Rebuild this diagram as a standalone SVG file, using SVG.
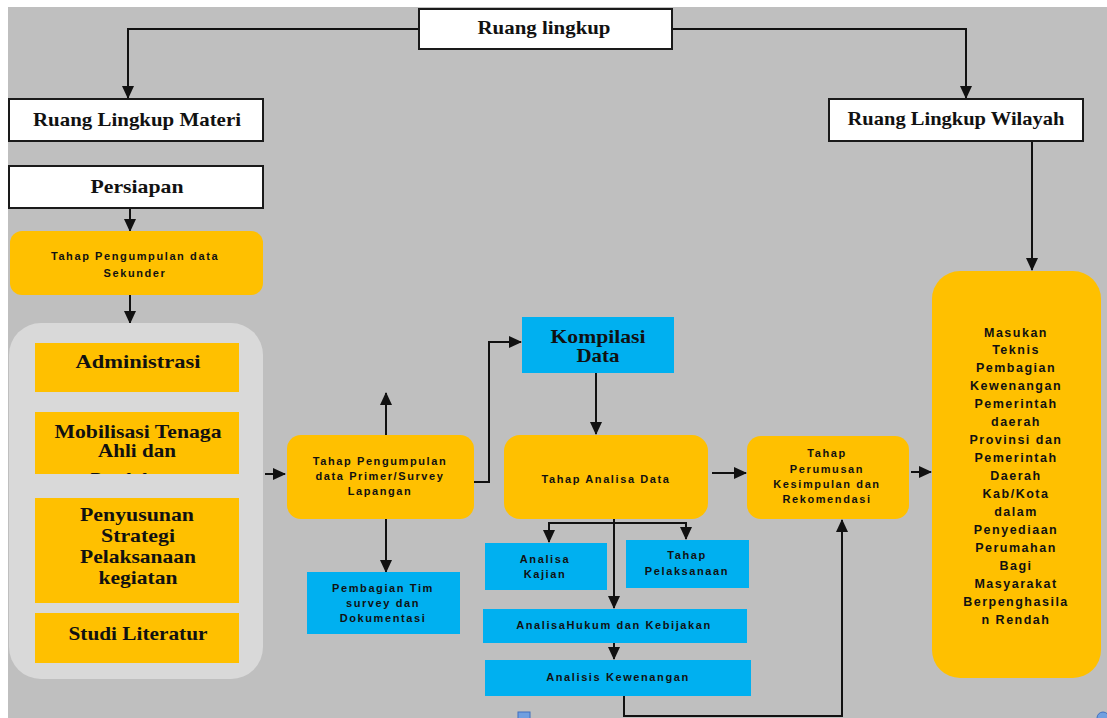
<svg xmlns="http://www.w3.org/2000/svg" width="1107" height="718" viewBox="0 0 1107 718">
  <defs>
    <marker id="arrow" markerUnits="userSpaceOnUse" markerWidth="13" markerHeight="12" refX="12" refY="6" orient="auto">
      <path d="M0,0 L13,6 L0,12 z" fill="#111"/>
    </marker>
    <clipPath id="clipMob">
      <rect x="35" y="412" width="204" height="62"/>
    </clipPath>
    <style>
      .page { fill: #ffffff; }
      .canvas { fill: #bfbfbf; }
      .white { fill: #ffffff; stroke: #1a1a1a; stroke-width: 2; }
      .orange { fill: #ffc000; }
      .blue { fill: #00b0f0; }
      .panel { fill: #d9d9d9; }
      .head { font-family: "Liberation Serif", "DejaVu Serif", serif; font-weight: bold; fill: #111; text-anchor: middle; font-size: 19px; }
      .small { font-family: "Liberation Sans", "DejaVu Sans", sans-serif; font-weight: bold; fill: #111; text-anchor: middle; font-size: 11px; letter-spacing: 1.6px; }
      .mid { font-family: "Liberation Sans", "DejaVu Sans", sans-serif; font-weight: bold; fill: #111; text-anchor: middle; font-size: 12.5px; letter-spacing: 1.5px; }
      .conn { fill: none; stroke: #111; stroke-width: 2; }
    </style>
  </defs>

  <!-- page and canvas -->
  <rect class="page" x="0" y="0" width="1107" height="718"/>
  <rect class="canvas" x="8" y="7" width="1099" height="711"/>

  <!-- connectors -->
  <g id="connectors">
    <path class="conn" d="M418,29 H128 V98" marker-end="url(#arrow)"/>
    <path class="conn" d="M672,29 H966 V98" marker-end="url(#arrow)"/>
    <path class="conn" d="M130,208 V231" marker-end="url(#arrow)"/>
    <path class="conn" d="M130,295 V323" marker-end="url(#arrow)"/>
    <path class="conn" d="M265,474 H285" marker-end="url(#arrow)"/>
    <path class="conn" d="M386,435 V393" marker-end="url(#arrow)"/>
    <path class="conn" d="M386,519 V572" marker-end="url(#arrow)"/>
    <path class="conn" d="M474,482 H489 V342 H521" marker-end="url(#arrow)"/>
    <path class="conn" d="M596,373 V434" marker-end="url(#arrow)"/>
    <path class="conn" d="M614,523 H549 V542" marker-end="url(#arrow)"/>
    <path class="conn" d="M614,523 H686 V539" marker-end="url(#arrow)"/>
    <path class="conn" d="M614,519 V608" marker-end="url(#arrow)"/>
    <path class="conn" d="M614,643 V659" marker-end="url(#arrow)"/>
    <path class="conn" d="M712,473 H746" marker-end="url(#arrow)"/>
    <path class="conn" d="M911,472 H931" marker-end="url(#arrow)"/>
    <path class="conn" d="M1032,141 V270" marker-end="url(#arrow)"/>
    <path class="conn" d="M624,696 V716 H842 V520" marker-end="url(#arrow)"/>
  </g>

  <g id="ruang-lingkup">
    <rect class="white" x="419" y="9" width="253" height="40"/>
    <text class="head" x="544" y="34" textLength="133" lengthAdjust="spacingAndGlyphs">Ruang lingkup</text>
  </g>

  <g id="ruang-lingkup-materi">
    <rect class="white" x="9" y="99" width="254" height="42"/>
    <text class="head" x="137" y="126" textLength="208" lengthAdjust="spacingAndGlyphs">Ruang Lingkup Materi</text>
  </g>

  <g id="ruang-lingkup-wilayah">
    <rect class="white" x="829" y="99" width="254" height="42"/>
    <text class="head" x="956" y="125" textLength="217" lengthAdjust="spacingAndGlyphs">Ruang Lingkup Wilayah</text>
  </g>

  <g id="persiapan">
    <rect class="white" x="9" y="166" width="254" height="42"/>
    <text class="head" x="137" y="193" textLength="93" lengthAdjust="spacingAndGlyphs">Persiapan</text>
  </g>

  <g id="data-sekunder">
    <rect class="orange" x="10" y="231" width="253" height="64" rx="12"/>
    <text class="small" x="135" y="260">Tahap Pengumpulan data</text>
    <text class="small" x="135" y="277">Sekunder</text>
  </g>

  <g id="persiapan-panel">
    <rect class="panel" x="9" y="323" width="254" height="356" rx="32"/>
  </g>

  <g id="administrasi">
    <rect class="orange" x="35" y="343" width="204" height="49"/>
    <text class="head" x="138" y="368" textLength="125" lengthAdjust="spacingAndGlyphs">Administrasi</text>
  </g>

  <g id="mobilisasi">
    <rect class="orange" x="35" y="412" width="204" height="62"/>
    <g clip-path="url(#clipMob)">
      <text class="head" x="138" y="438" textLength="167" lengthAdjust="spacingAndGlyphs">Mobilisasi Tenaga</text>
      <text class="head" x="137" y="457" textLength="78" lengthAdjust="spacingAndGlyphs">Ahli dan</text>
      <text class="head" x="137" y="486">Pendukung</text>
    </g>
  </g>

  <g id="penyusunan-strategi">
    <rect class="orange" x="35" y="498" width="204" height="105"/>
    <text class="head" x="137" y="521" textLength="114" lengthAdjust="spacingAndGlyphs">Penyusunan</text>
    <text class="head" x="138" y="542" textLength="74" lengthAdjust="spacingAndGlyphs">Strategi</text>
    <text class="head" x="138" y="563" textLength="116" lengthAdjust="spacingAndGlyphs">Pelaksanaan</text>
    <text class="head" x="138" y="584" textLength="79" lengthAdjust="spacingAndGlyphs">kegiatan</text>
  </g>

  <g id="studi-literatur">
    <rect class="orange" x="35" y="613" width="204" height="50"/>
    <text class="head" x="138" y="640" textLength="139" lengthAdjust="spacingAndGlyphs">Studi Literatur</text>
  </g>

  <g id="data-primer">
    <rect class="orange" x="287" y="435" width="187" height="84" rx="14"/>
    <text class="small" x="380" y="465">Tahap Pengumpulan</text>
    <text class="small" x="380" y="480">data Primer/Survey</text>
    <text class="small" x="380" y="495">Lapangan</text>
  </g>

  <g id="pembagian-tim">
    <rect class="blue" x="307" y="572" width="153" height="62"/>
    <text class="small" x="383" y="592">Pembagian Tim</text>
    <text class="small" x="383" y="607">survey dan</text>
    <text class="small" x="383" y="622">Dokumentasi</text>
  </g>

  <g id="kompilasi-data">
    <rect class="blue" x="522" y="317" width="152" height="56"/>
    <text class="head" x="598" y="343" textLength="95" lengthAdjust="spacingAndGlyphs">Kompilasi</text>
    <text class="head" x="598" y="362" textLength="43" lengthAdjust="spacingAndGlyphs">Data</text>
  </g>

  <g id="analisa-data">
    <rect class="orange" x="504" y="435" width="204" height="84" rx="16"/>
    <text class="small" x="606" y="483">Tahap Analisa Data</text>
  </g>

  <g id="analisa-kajian">
    <rect class="blue" x="485" y="543" width="122" height="47"/>
    <text class="small" x="545" y="563">Analisa</text>
    <text class="small" x="545" y="578">Kajian</text>
  </g>

  <g id="tahap-pelaksanaan">
    <rect class="blue" x="626" y="540" width="123" height="48"/>
    <text class="small" x="687" y="559">Tahap</text>
    <text class="small" x="687" y="575">Pelaksanaan</text>
  </g>

  <g id="analisa-hukum">
    <rect class="blue" x="483" y="609" width="264" height="34"/>
    <text class="small" x="614" y="629">AnalisaHukum  dan Kebijakan</text>
  </g>

  <g id="analisis-kewenangan">
    <rect class="blue" x="485" y="660" width="266" height="36"/>
    <text class="small" x="618" y="681">Analisis Kewenangan</text>
  </g>

  <g id="kesimpulan">
    <rect class="orange" x="747" y="436" width="162" height="83" rx="14"/>
    <text class="small" x="827" y="457">Tahap</text>
    <text class="small" x="827" y="473">Perumusan</text>
    <text class="small" x="827" y="488">Kesimpulan dan</text>
    <text class="small" x="827" y="503">Rekomendasi</text>
  </g>

  <g id="masukan-teknis">
    <rect class="orange" x="932" y="271" width="169" height="407" rx="28"/>
    <text class="mid" x="1016" y="337">Masukan</text>
    <text class="mid" x="1016" y="354">Teknis</text>
    <text class="mid" x="1016" y="372">Pembagian</text>
    <text class="mid" x="1016" y="390">Kewenangan</text>
    <text class="mid" x="1016" y="408">Pemerintah</text>
    <text class="mid" x="1016" y="426">daerah</text>
    <text class="mid" x="1016" y="444">Provinsi dan</text>
    <text class="mid" x="1016" y="462">Pemerintah</text>
    <text class="mid" x="1016" y="480">Daerah</text>
    <text class="mid" x="1016" y="498">Kab/Kota</text>
    <text class="mid" x="1016" y="516">dalam</text>
    <text class="mid" x="1016" y="534">Penyediaan</text>
    <text class="mid" x="1016" y="552">Perumahan</text>
    <text class="mid" x="1016" y="570">Bagi</text>
    <text class="mid" x="1016" y="588">Masyarakat</text>
    <text class="mid" x="1016" y="606">Berpenghasila</text>
    <text class="mid" x="1016" y="624">n Rendah</text>
  </g>

  <!-- selection handles along the bottom edge -->
  <rect x="518" y="712" width="12" height="8" fill="#6f9fe0" stroke="#3f6fc0" stroke-width="1"/>
  <circle cx="1103" cy="718" r="6" fill="#6f9fe0" stroke="#3f6fc0" stroke-width="1"/>
</svg>
